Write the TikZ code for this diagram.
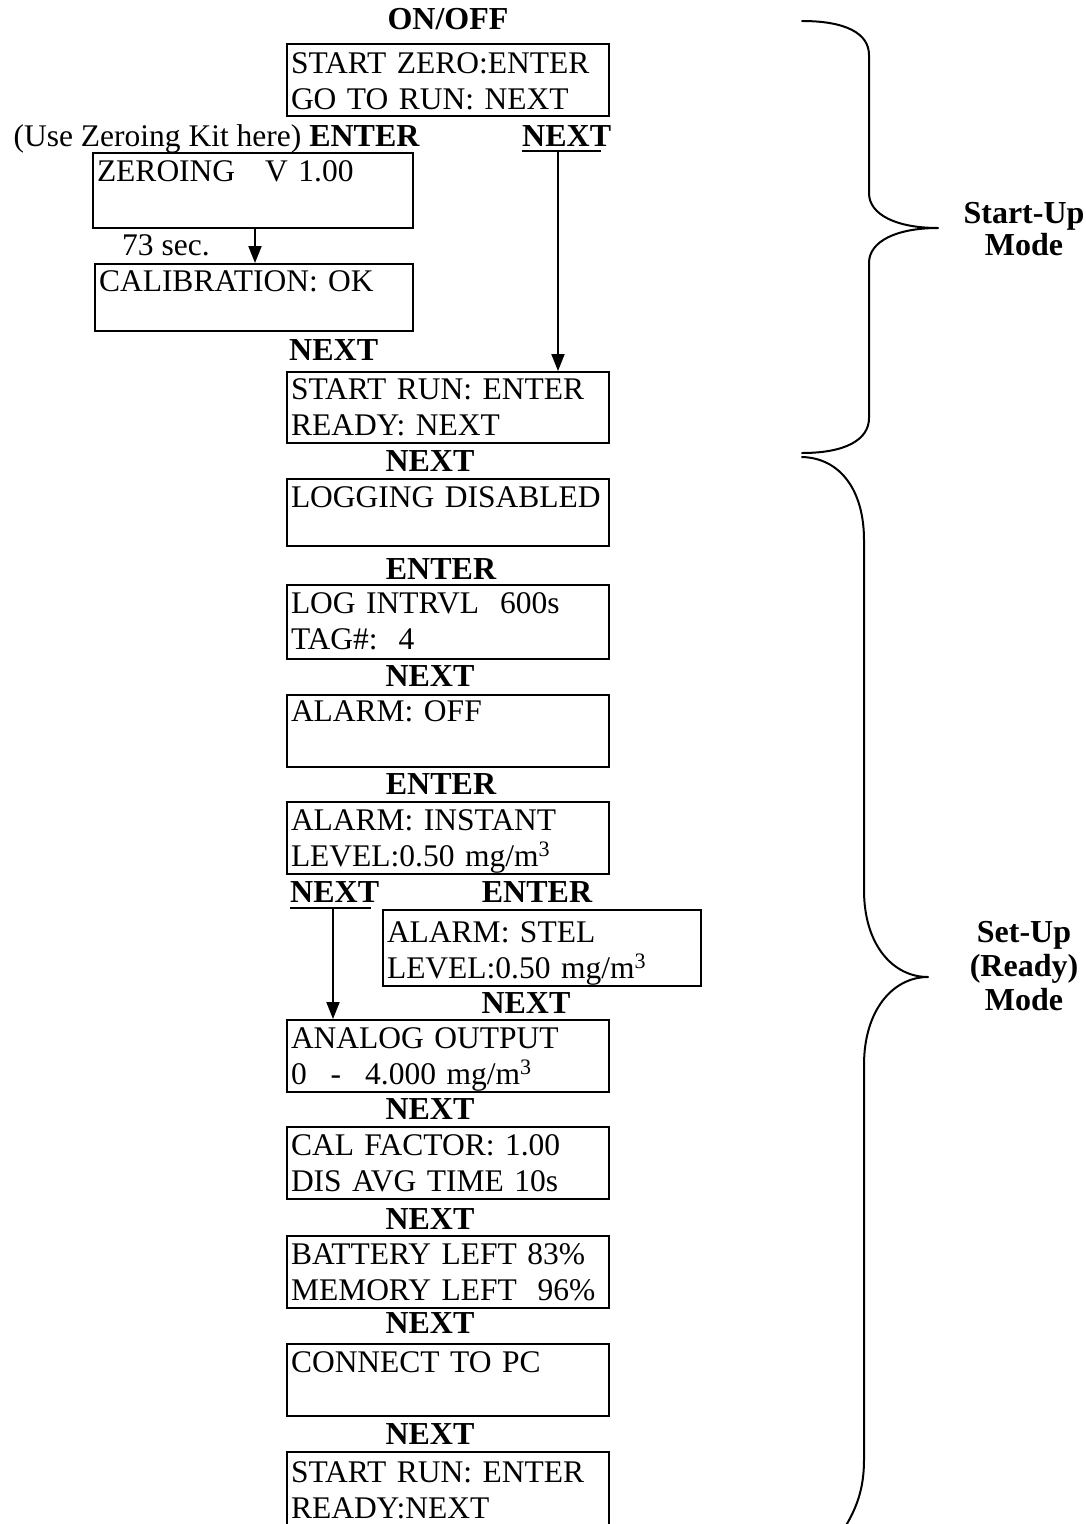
\documentclass[tikz,border=0pt]{standalone}
\usepackage{fontspec}
\setmainfont{Liberation Serif}
\usetikzlibrary{arrows.meta}
\newcommand\fsz{\fontsize{31.5}{36}\selectfont}
\newcommand\bfsz{\fontsize{32}{36}\selectfont}
\begin{document}
\begin{tikzpicture}[x=1pt,y=-1pt,
  box/.style={draw, line width=2pt, anchor=north west, align=left, inner xsep=4pt, inner ysep=0pt, text width=314pt, font=\fsz},
  th/.style 2 args={text height=#1pt, text depth=#2pt},
  lbl/.style={inner sep=0pt, anchor=base, font=\bfsz\bfseries},
  txt/.style={inner sep=0pt, font=\fsz},
  arr/.style={line width=2pt, -{Triangle[length=17pt,width=13pt]}},
  uline/.style={line width=2pt},
  brace/.style={line width=2pt, line cap=round, line join=round}]
\clip (0,0) rectangle (1086,1524);
\fill[white] (0,0) rectangle (1086,1524);

% start-up part
\node[lbl] (onoff) at (448,29) {ON/OFF};
\node[box, th={29}{43}] (b1) at (286,43) {START~ZERO:ENTER\\GO TO RUN: NEXT};
\node[txt, anchor=base east] (use) at (420,146) {(Use Zeroing Kit here) \textbf{\bfsz ENTER}};
\node[lbl, anchor=base west, inner ysep=5pt] (nx1) at (522,146) {NEXT};
\draw[uline] (nx1.south west) -- ([xshift=-10pt]nx1.south east);
\node[box, text width=312pt, th={28}{47}] (zero) at (92,152) {ZEROING\hspace{30pt}V 1.00};
\node[txt, anchor=base west] (sec) at (122,255) {73 sec.};
\node[box, text width=310pt, th={27}{40}] (cal) at (94,263) {CALIBRATION: OK};
\coordinate (ax1) at (255,0);
\draw[arr] (zero.south -| ax1) -- (cal.north -| ax1);
\node[lbl, anchor=base west] (nx2) at (289,360) {NEXT};
\node[box, th={27}{44}] (run1) at (286,371) {START RUN: ENTER\\READY: NEXT};
\coordinate (ax2) at (558,0);
\draw[arr] (nx1.south -| ax2) -- (run1.north -| ax2);

% set-up part
\node[lbl] (nx3) at (430,471) {NEXT};
\node[box, th={28}{39}] (log) at (286,478) {LOGGING~DISABLED};
\node[lbl] (en1) at (441,579) {ENTER};
\node[box, th={28}{46}] (intv) at (286,584) {LOG INTRVL\ \ 600s\\TAG\#:\ \ 4};
\node[lbl] (nx4) at (430,686) {NEXT};
\node[box, th={26}{46}] (aoff) at (286,694) {ALARM: OFF};
\node[lbl] (en2) at (441,794) {ENTER};
\node[box, th={28}{44}] (ainst) at (286,801) {ALARM: INSTANT\\LEVEL:0.50 mg/m\textsuperscript{3}};
\node[lbl, anchor=base west, inner ysep=6pt] (nx5) at (290,902) {NEXT};
\draw[uline] (nx5.south west) -- ([xshift=-8pt]nx5.south east);
\node[lbl] (en3) at (537,902) {ENTER};
\node[box, text width=310pt, th={32}{44}] (stel) at (382,909) {ALARM: STEL\\LEVEL:0.50 mg/m\textsuperscript{3}};
\node[lbl] (nx6) at (526,1013) {NEXT};
\node[box, th={28}{44}] (analog) at (286,1019) {ANALOG OUTPUT\\0\hspace{24pt}-\hspace{24pt}4.000 mg/m\textsuperscript{3}};
\coordinate (ax3) at (333,0);
\draw[arr] (nx5.south -| ax3) -- (analog.north -| ax3);
\node[lbl] (nx7) at (430,1119) {NEXT};
\node[box, th={28}{44}] (calf) at (286,1126) {CAL FACTOR: 1.00\\DIS AVG TIME 10s};
\node[lbl] (nx8) at (430,1229) {NEXT};
\node[box, th={28}{44}] (batt) at (286,1235) {BATTERY~LEFT~83\%\\MEMORY~LEFT\ \ 96\%};
\node[lbl] (nx9) at (430,1333) {NEXT};
\node[box, th={28}{44}] (conn) at (286,1343) {CONNECT TO PC};
\node[lbl] (nx10) at (430,1444) {NEXT};
\node[box, th={30}{50}] (run2) at (286,1451) {START RUN: ENTER\\READY:NEXT};

% braces
\draw[brace] (802,21) .. controls (845,21) and (869,33) .. (869,55)
  -- (869,193) .. controls (869,215) and (897,228) .. (938,228)
  .. controls (897,228) and (869,241) .. (869,263)
  -- (869,418) .. controls (869,440) and (845,453) .. (802,453);
\draw[brace] (802,457) .. controls (840,458) and (864,490) .. (864,540)
  -- (864,890) .. controls (864,945) and (893,977) .. (928,977)
  .. controls (893,977) and (864,1010) .. (864,1065)
  -- (864,1460) .. controls (864,1490) and (856,1510) .. (842,1532);

\node[lbl, anchor=north, align=center, font=\fontsize{32}{32}\selectfont\bfseries] (su) at (1024,202) {Start-Up\\Mode};
\node[lbl, anchor=north, align=center, font=\fontsize{32}{34}\selectfont\bfseries] (setup) at (1024,921) {Set-Up\\(Ready)\\Mode};
\end{tikzpicture}
\end{document}
